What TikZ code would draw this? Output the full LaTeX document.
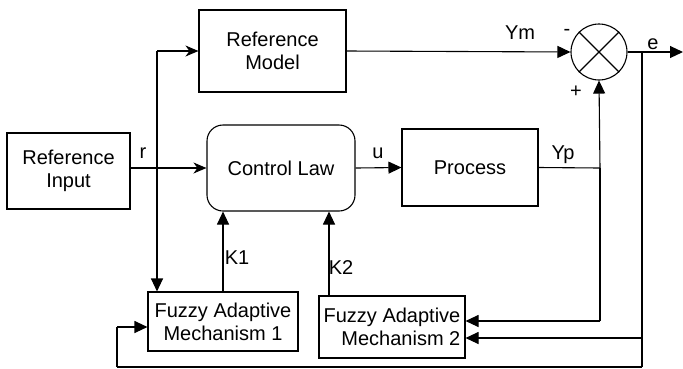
\documentclass[tikz,border=0pt]{standalone}
\usepackage{fontspec}
\setmainfont{Liberation Sans}
\usetikzlibrary{arrows.meta}
\begin{document}
\begin{tikzpicture}[x=1pt,y=-1pt,line width=1.1pt]
		\tikzstyle{blk}=[rectangle,draw=black,inner sep=2pt,align=center,font=\fontsize{20}{23}\selectfont]
		\tikzstyle{arr}=[-{Triangle[length=13pt,width=12pt]}]
		\tikzstyle{sarr}=[-{Stealth[length=13pt,width=11pt,inset=4pt]}]
		\tikzstyle{lbl}=[font=\fontsize{20}{23}\selectfont,inner sep=0pt]
		\useasboundingbox (0,0) rectangle (683,368);
		\begin{scope}
		\node[blk,minimum width=123pt,minimum height=76pt] (refin) at (68.5,171) {Reference\\Input};
		\node[blk,minimum width=147pt,minimum height=82pt] (refmod) at (272.5,51) {Reference\\Model};
		\node[blk,rounded corners=16pt,minimum width=148pt,minimum height=86pt] (ctrl) at (281,168) {Control Law};
		\node[blk,minimum width=136pt,minimum height=77pt] (proc) at (470,167.5) {Process};
		\node[circle,draw=black,minimum size=56pt,inner sep=0pt] (sum) at (599,52) {};
		\node[blk,minimum width=150pt,minimum height=59pt] (fuzzy1) at (223,321.5) {Fuzzy Adaptive\\Mechanism 1};
		\node[blk,align=right,minimum width=146pt,minimum height=62pt] (fuzzy2) at (392,327) {Fuzzy Adaptive\\Mechanism 2};
		\end{scope}
		
		\coordinate (rb) at (157,168);
		\coordinate (yp) at (600,168);
		\coordinate (yd) at (600,321);
		\coordinate (eb) at (642,52);
		\coordinate (eout) at (683,52);
		\coordinate (ed) at (642,338);
		\coordinate (bl) at (642,367);
		\coordinate (br) at (117,367);
		\coordinate (bu) at (117,327);
		\coordinate (k2) at (329,296);
		
		\draw (sum.north west) -- (sum.south east);
		\draw (sum.north east) -- (sum.south west);
		
		\path[-]
		(refin.east |- ctrl.west) edge[sarr] (ctrl.west)
		(rb) edge (rb |- refmod.west)
		(rb |- refmod.west) edge[sarr] (refmod.west)
		(rb) edge[arr] (rb |- fuzzy1.north)
		(ctrl.east) edge[arr] (proc.west)
		(refmod.east) edge[arr] (sum.west)
		(proc.east) edge (yp)
		(yp) edge[arr] (sum.south)
		(yp) edge (yd)
		(yd) edge[arr] (fuzzy2.east |- yd)
		(sum.east) edge[arr] (eout)
		(eb) edge (bl)
		(ed) edge[arr] (fuzzy2.east |- ed)
		(bl) edge (br)
		(br) edge (bu)
		(bu) edge[arr] (fuzzy1.west |- bu)
		(fuzzy1.north) edge[arr] (fuzzy1.north |- ctrl.south)
		(k2) edge[arr] (k2 |- ctrl.south)
		;
		
		\node[lbl] (r) at (143,153) {r};
		\node[lbl] (u) at (378,153) {u};
		\node[lbl] (ym) at (520,33) {Ym};
		\node[lbl] (minus) at (567,32) {-};
		\node[lbl] (plus) at (576,92) {+};
		\node[lbl] (e) at (653,44) {e};
		\node[lbl] (yplbl) at (563,155) {Yp};
		\node[lbl] (k1lbl) at (237,258) {K1};
		\node[lbl] (k2lbl) at (341,268) {K2};
\end{tikzpicture}
\end{document}
